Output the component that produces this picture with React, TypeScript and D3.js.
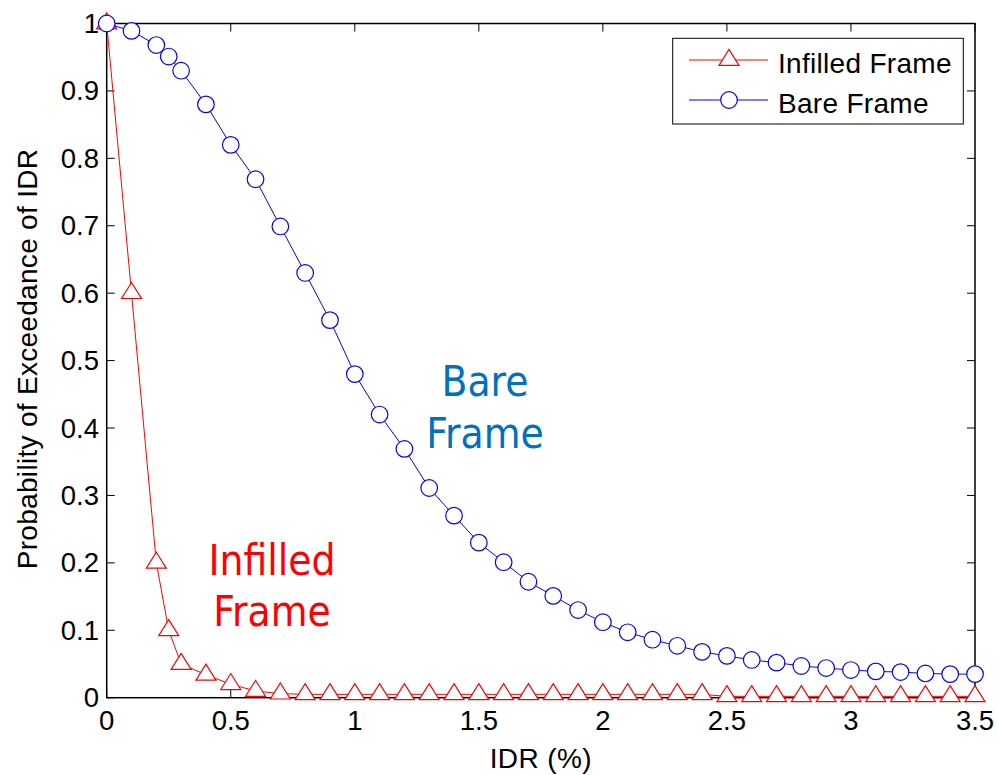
import React from "react";
import * as d3 from "d3";

// Interstory drift ratio (%) sample points
const idr = [
  0, 0.1, 0.2, 0.25, 0.3, 0.4, 0.5, 0.6, 0.7, 0.8, 0.9, 1.0, 1.1, 1.2, 1.3, 1.4, 1.5,
  1.6, 1.7, 1.8, 1.9, 2.0, 2.1, 2.2, 2.3, 2.4, 2.5, 2.6, 2.7, 2.8, 2.9, 3.0, 3.1,
  3.2, 3.3, 3.4, 3.5,
];

// Probability of exceedance — infilled frame
const infilled = [
  1.0, 0.6, 0.2, 0.1, 0.05, 0.034, 0.02, 0.01, 0.006, 0.005, 0.005, 0.005, 0.005,
  0.005, 0.005, 0.005, 0.005, 0.005, 0.005, 0.005, 0.005, 0.005, 0.005, 0.005,
  0.005, 0.005, 0.002, 0.002, 0.002, 0.002, 0.002, 0.002, 0.002, 0.002, 0.002,
  0.002, 0.002,
];

// Probability of exceedance — bare frame
const bare = [
  1.0, 0.989, 0.968, 0.951, 0.93, 0.88, 0.82, 0.769, 0.699, 0.63, 0.56, 0.48, 0.42,
  0.369, 0.311, 0.27, 0.23, 0.201, 0.172, 0.151, 0.13, 0.112, 0.097, 0.086, 0.077,
  0.068, 0.062, 0.056, 0.052, 0.047, 0.044, 0.041, 0.039, 0.038, 0.036, 0.035,
  0.035,
];

const xTicks = [0, 0.5, 1, 1.5, 2, 2.5, 3, 3.5];
const yTicks = [0, 0.1, 0.2, 0.3, 0.4, 0.5, 0.6, 0.7, 0.8, 0.9, 1];

const W = 999;
const H = 775;
const left = 106.7;
const right = 975;
const top = 23.5;
const bottom = 697.7;

const RED = "#ff0000";
const BLUE = "#0000ff";
const FONT = "'Liberation Sans', Arial, sans-serif";
const NOTE_FONT = "'DejaVu Sans Condensed', 'DejaVu Sans', sans-serif";

// Upward triangle centred on its centroid
function triPath(cx: number, cy: number, w = 20, h = 16) {
  return `M${cx},${cy - (2 * h) / 3}L${cx + w / 2},${cy + h / 3}L${cx - w / 2},${cy + h / 3}Z`;
}

export default function App() {
  const x = d3.scaleLinear().domain([0, 3.5]).range([left, right]);
  const y = d3.scaleLinear().domain([0, 1]).range([bottom, top]);

  const redPts = idr.map((d, i) => [x(d), y(infilled[i])] as [number, number]);
  const bluePts = idr.map((d, i) => [x(d), y(bare[i])] as [number, number]);
  const line = d3.line();

  const tickLen = 8;

  return (
    <svg
      width={W}
      height={H}
      style={{ position: "absolute", left: 0, top: 0, background: "#fff" }}
    >
      <rect x={0} y={0} width={W} height={H} fill="#fff" />

      {/* frame */}
      <rect
        x={left}
        y={top}
        width={right - left}
        height={bottom - top}
        fill="none"
        stroke="#000"
        strokeWidth={1.5}
      />

      {/* ticks */}
      {xTicks.map((t) => (
        <g key={"xt" + t}>
          <line x1={x(t)} x2={x(t)} y1={bottom} y2={bottom - tickLen} stroke="#000" strokeWidth={1} />
          <line x1={x(t)} x2={x(t)} y1={top} y2={top + tickLen} stroke="#000" strokeWidth={1} />
          <text
            x={x(t)}
            y={730}
            textAnchor="middle"
            fontFamily={FONT}
            fontSize={27.5}
            fill="#000"
          >
            {String(t)}
          </text>
        </g>
      ))}
      {yTicks.map((t) => (
        <g key={"yt" + t}>
          <line x1={left} x2={left + tickLen} y1={y(t)} y2={y(t)} stroke="#000" strokeWidth={1} />
          <line x1={right} x2={right - tickLen} y1={y(t)} y2={y(t)} stroke="#000" strokeWidth={1} />
          <text
            x={99}
            y={y(t) + 9.5}
            textAnchor="end"
            fontFamily={FONT}
            fontSize={27.5}
            fill="#000"
          >
            {String(t)}
          </text>
        </g>
      ))}

      {/* axis labels */}
      <text
        x={(left + right) / 2}
        y={768}
        textAnchor="middle"
        fontFamily={FONT}
        fontSize={28}
        letterSpacing={0.4}
        fill="#000"
      >
        IDR (%)
      </text>
      <text
        transform={`translate(37,359) rotate(-90)`}
        textAnchor="middle"
        fontFamily={FONT}
        fontSize={28}
        letterSpacing={0.3}
        fill="#000"
      >
        Probability of Exceedance of IDR
      </text>

      {/* infilled frame series */}
      <path d={line(redPts) || ""} fill="none" stroke={RED} strokeWidth={1} />
      {redPts.map(([px, py], i) => (
        <path key={"r" + i} d={triPath(px, py)} fill="#fff" stroke={RED} strokeWidth={1.2} />
      ))}

      {/* bare frame series */}
      <path d={line(bluePts) || ""} fill="none" stroke={BLUE} strokeWidth={1} />
      {bluePts.map(([px, py], i) => (
        <circle key={"b" + i} cx={px} cy={py} r={8.3} fill="#fff" stroke={BLUE} strokeWidth={1.2} />
      ))}

      {/* in-plot annotations */}
      <text fontFamily={NOTE_FONT} fontSize={42} fill="#0070c0" textAnchor="middle">
        <tspan x={485} y={396}>Bare</tspan>
        <tspan x={485} y={448}>Frame</tspan>
      </text>
      <text fontFamily={NOTE_FONT} fontSize={42} fill={RED} textAnchor="middle">
        <tspan x={272} y={575}>Infilled</tspan>
        <tspan x={272} y={626}>Frame</tspan>
      </text>

      {/* legend */}
      <g>
        <rect x={672.7} y={38.3} width={290.6} height={85.7} fill="#fff" stroke="#000" strokeWidth={1} />
        <line x1={689} x2={768} y1={60} y2={60} stroke={RED} strokeWidth={1} />
        <path d={triPath(729, 60)} fill="#fff" stroke={RED} strokeWidth={1.2} />
        <text x={778} y={72.5} fontFamily={FONT} fontSize={28} letterSpacing={0.3} fill="#000">
          Infilled Frame
        </text>
        <line x1={689} x2={768} y1={100} y2={100} stroke={BLUE} strokeWidth={1} />
        <circle cx={729} cy={100} r={8.3} fill="#fff" stroke={BLUE} strokeWidth={1.2} />
        <text x={778} y={112.5} fontFamily={FONT} fontSize={28} letterSpacing={0.3} fill="#000">
          Bare Frame
        </text>
      </g>
    </svg>
  );
}
